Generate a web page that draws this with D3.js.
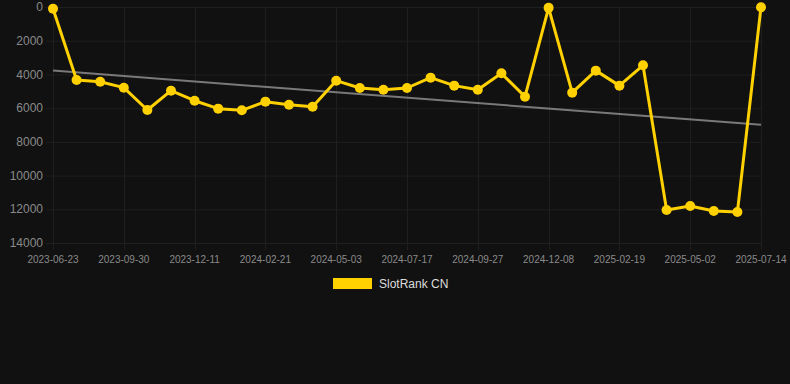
<!DOCTYPE html>
<html>
<head>
<meta charset="utf-8">
<script src="https://cdn.jsdelivr.net/npm/d3@7"></script>
<style>
  html, body { margin: 0; padding: 0; background: #111111; }
  svg { display: block; font-family: "Liberation Sans", Arial, Helvetica, sans-serif; }
</style>
</head>
<body>
<div id="viz"></div>
<script>
// dates of each sample (only every 3rd one is labelled on the axis)
var dates = [
  "2023-06-23", "2023-07-26", "2023-08-28", "2023-09-30", "2023-10-24", "2023-11-17",
  "2023-12-11", "2024-01-04", "2024-01-28", "2024-02-21", "2024-03-15", "2024-04-09",
  "2024-05-03", "2024-05-28", "2024-06-22", "2024-07-17", "2024-08-10", "2024-09-03",
  "2024-09-27", "2024-10-21", "2024-11-14", "2024-12-08", "2025-01-01", "2025-01-26",
  "2025-02-19", "2025-03-15", "2025-04-08", "2025-05-02", "2025-05-26", "2025-06-19",
  "2025-07-14"
];

// SlotRank CN values
var ranks = [
  100, 4330, 4430, 4785, 6110, 4965,
  5560, 6030, 6130, 5615, 5795, 5915,
  4370, 4805, 4905, 4805, 4190, 4665,
  4905, 3935, 5320, 50, 5080, 3775,
  4665, 3460, 12040, 11805, 12100, 12160,
  10
];

var yTicks = [0, 2000, 4000, 6000, 8000, 10000, 12000, 14000];
var seriesName = "SlotRank CN";

var width = 790,
    height = 384;

var gold = "#ffd100";
var gridColor = "#1f1f1f";

var svg = d3.select("#viz")
  .append("svg")
  .attr("width", width)
  .attr("height", height);

svg.append("rect")
  .attr("width", width)
  .attr("height", height)
  .attr("fill", "#111111");

var x = d3.scalePoint()
  .domain(d3.range(dates.length))
  .range([53, 761]);

// rank axis: 0 at the top
var y = d3.scaleLinear()
  .domain([0, 14000])
  .range([7, 243]);

// horizontal grid + y labels
svg.append("g")
  .selectAll("line")
  .data(yTicks)
  .enter()
  .append("line")
  .attr("x1", 46)
  .attr("x2", 761)
  .attr("y1", function(d) { return y(d) + 0.5; })
  .attr("y2", function(d) { return y(d) + 0.5; })
  .attr("stroke", gridColor)
  .attr("stroke-width", 1);

svg.append("g")
  .selectAll("text")
  .data(yTicks)
  .enter()
  .append("text")
  .attr("x", 43)
  .attr("y", function(d) { return y(d); })
  .attr("dy", "0.35em")
  .attr("text-anchor", "end")
  .attr("fill", "#8a8a8a")
  .style("font-size", "12px")
  .text(function(d) { return d; });

// vertical grid at labelled ticks
var labelled = d3.range(0, dates.length, 3);

svg.append("g")
  .selectAll("line")
  .data(labelled)
  .enter()
  .append("line")
  .attr("x1", function(i) { return Math.round(x(i)) + 0.5; })
  .attr("x2", function(i) { return Math.round(x(i)) + 0.5; })
  .attr("y1", 7)
  .attr("y2", 250)
  .attr("stroke", gridColor)
  .attr("stroke-width", 1);

svg.append("g")
  .selectAll("text")
  .data(labelled)
  .enter()
  .append("text")
  .attr("x", function(i) { return x(i); })
  .attr("y", 263)
  .attr("text-anchor", "middle")
  .attr("fill", "#8a8a8a")
  .style("font-size", "10px")
  .text(function(i) { return dates[i]; });

// trend line (least squares over the samples)
var n = ranks.length;
var mx = d3.mean(d3.range(n));
var my = d3.mean(ranks);
var sxy = d3.sum(ranks, function(v, i) { return (i - mx) * (v - my); });
var sxx = d3.sum(d3.range(n), function(i) { return (i - mx) * (i - mx); });
var slope = sxy / sxx;
var icpt = my - slope * mx;

svg.append("line")
  .attr("x1", x(0))
  .attr("y1", y(icpt))
  .attr("x2", x(n - 1))
  .attr("y2", y(icpt + slope * (n - 1)))
  .attr("stroke", "#8c8c8c")
  .attr("stroke-opacity", 0.85)
  .attr("stroke-width", 2);

// series line
var line = d3.line()
  .x(function(d, i) { return x(i); })
  .y(function(d) { return y(d); });

svg.append("path")
  .datum(ranks)
  .attr("d", line)
  .attr("fill", "none")
  .attr("stroke", gold)
  .attr("stroke-width", 3)
  .attr("stroke-linejoin", "round");

svg.append("g")
  .selectAll("circle")
  .data(ranks)
  .enter()
  .append("circle")
  .attr("cx", function(d, i) { return x(i); })
  .attr("cy", function(d) { return y(d); })
  .attr("r", 5)
  .attr("fill", gold);

// legend
var legend = svg.append("g");

legend.append("rect")
  .attr("x", 333)
  .attr("y", 278)
  .attr("width", 39)
  .attr("height", 11)
  .attr("fill", gold);

legend.append("text")
  .attr("x", 379)
  .attr("y", 284)
  .attr("dy", "0.35em")
  .attr("fill", "#dddddd")
  .style("font-size", "12px")
  .text(seriesName);
</script>
</body>
</html>
